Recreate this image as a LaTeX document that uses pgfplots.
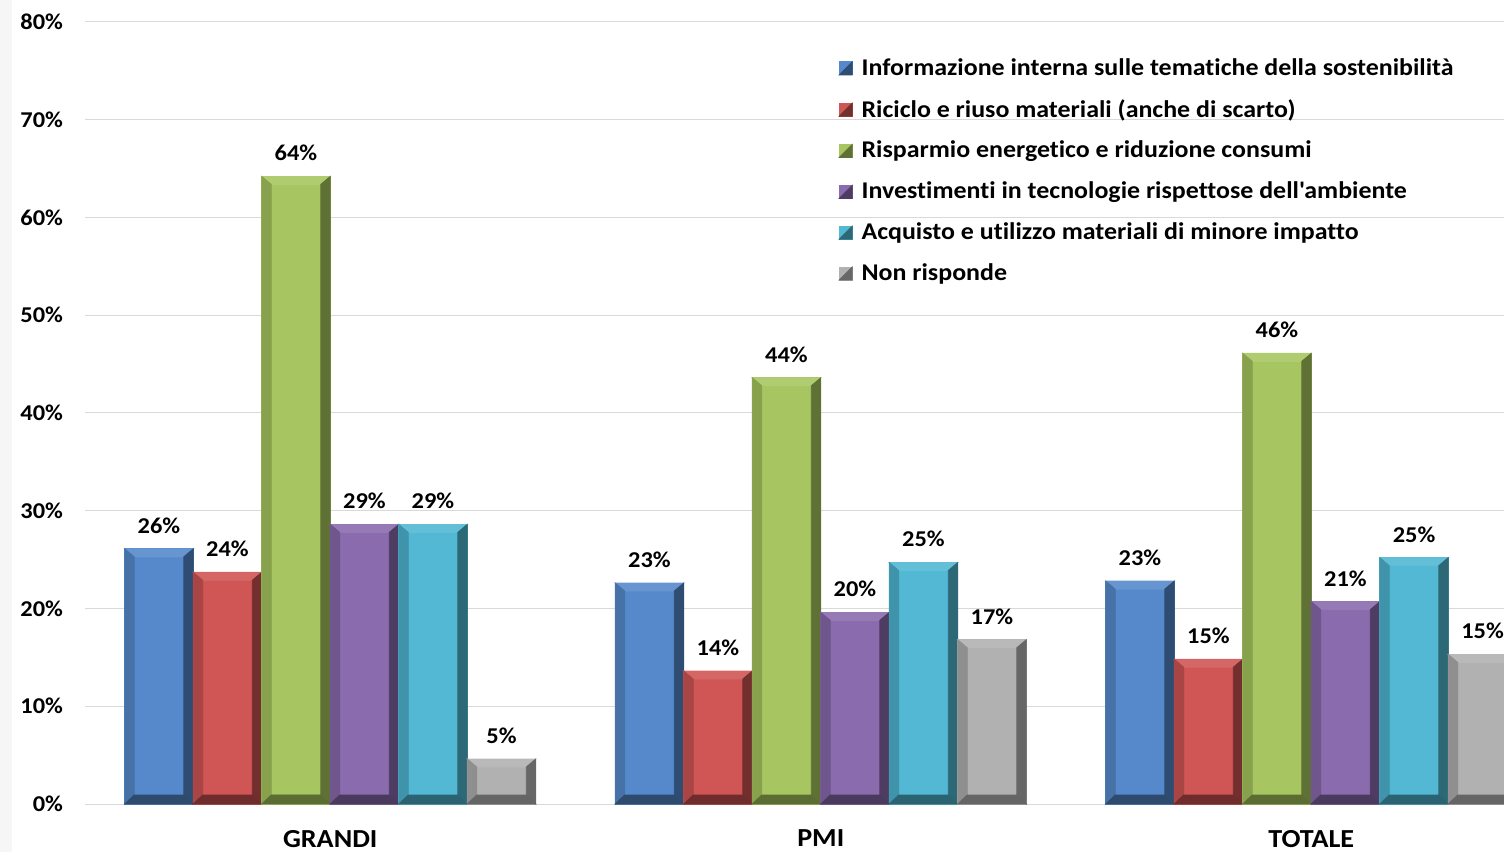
\documentclass[border=0pt]{standalone}
\usepackage{fontspec}
\setmainfont{Carlito}[FakeStretch=1.08, Ligatures={TeXOff,NoCommon}]
\usepackage{pgfplots}
\pgfplotsset{compat=1.18}

\definecolor{bM}{HTML}{5589CB}\definecolor{bL}{HTML}{4672A8}\definecolor{bR}{HTML}{2F4D72}\definecolor{bB}{HTML}{2E4A6C}
\definecolor{rM}{HTML}{CF5654}\definecolor{rL}{HTML}{A94544}\definecolor{rR}{HTML}{732E2E}\definecolor{rB}{HTML}{6E2C2C}
\definecolor{gM}{HTML}{A7C661}\definecolor{gL}{HTML}{88A14C}\definecolor{gR}{HTML}{5F7134}\definecolor{gB}{HTML}{5C6D33}
\definecolor{pM}{HTML}{8A6BAD}\definecolor{pL}{HTML}{6F568D}\definecolor{pR}{HTML}{4E3C62}\definecolor{pB}{HTML}{4A3A5E}
\definecolor{cM}{HTML}{52B8D4}\definecolor{cL}{HTML}{3F94AB}\definecolor{cR}{HTML}{2D6876}\definecolor{cB}{HTML}{2C6372}
\definecolor{kM}{HTML}{B1B1B1}\definecolor{kL}{HTML}{8F8F8F}\definecolor{kR}{HTML}{676767}\definecolor{kB}{HTML}{656565}
\definecolor{gridc}{HTML}{D9D9D9}
\definecolor{leftbg}{HTML}{F6F6F6}

\newcommand\lbl{\fontsize{11.3}{13}\selectfont\bfseries}
\newcommand\leglbl{\fontsize{12}{14}\selectfont\bfseries}
\newcommand\xlbl{\fontsize{13}{15}\selectfont\bfseries}

\pgfdeclareplotmark{empty}{}

\newcommand\bevelbar[6]{%
  \begingroup
  \pgfmathsetmacro\xL{#1-17.125}%
  \pgfmathsetmacro\xR{#1+17.125}%
  \pgfmathsetmacro\xLi{\xL+4.75}%
  \pgfmathsetmacro\xRi{\xR-4.75}%
  \pgfmathsetmacro\yB{-#2}%
  \pgfmathsetmacro\yBi{\yB+4.5}%
  \def\yTi{-4}%
  \fill[#3] (\xL pt,0pt) rectangle (\xR pt,\yB pt);
  \fill[#3!90!white] (\xL pt,0pt) -- (\xR pt,0pt) -- (\xRi pt,\yTi pt) -- (\xLi pt,\yTi pt) -- cycle;
  \fill[#4] (\xL pt,0pt) -- (\xLi pt,\yTi pt) -- (\xLi pt,\yBi pt) -- (\xL pt,\yB pt) -- cycle;
  \fill[#5] (\xR pt,0pt) -- (\xRi pt,\yTi pt) -- (\xRi pt,\yBi pt) -- (\xR pt,\yB pt) -- cycle;
  \fill[#6] (\xL pt,\yB pt) -- (\xLi pt,\yBi pt) -- (\xRi pt,\yBi pt) -- (\xR pt,\yB pt) -- cycle;
  \endgroup
}

\pgfplotsset{
  bevel/.style n args={5}{
    scatter, only marks, mark=empty, point meta=y,
    visualization depends on={rawy \as \rawy},
    scatter/@pre marker code/.code={%
      \pgfmathsetmacro\barH{\rawy*4.8875}%
      \bevelbar{#1}{\barH}{#2}{#3}{#4}{#5}%
      \pgfmathtruncatemacro\lab{round(\rawy)}%
      \node[anchor=south, font=\lbl, text=black, inner sep=2pt] at (#1pt,5.5pt) {\lab\%};%
    },
    scatter/@post marker code/.code={},
    legend image code/.code={
      \fill[#2] (0pt,-3.25pt) rectangle (6.5pt,3.25pt);
      \fill[#4] (6.5pt,3.25pt) -- (6.5pt,-3.25pt) -- (0pt,-3.25pt) -- cycle;},
  }
}

\begin{document}
\begin{tikzpicture}
\useasboundingbox (0,0) rectangle (752pt,426pt);
\fill[leftbg] (0,0) rectangle (6pt,426pt);
\begin{axis}[
  at={(42.5pt,24pt)}, anchor=south west,
  x=245.25pt, y=4.8875pt,
  xmin=-0.5, xmax=2.5, ymin=0, ymax=80,
  axis line style={draw=none},
  major tick length=0pt,
  ytick={0,10,...,80},
  yticklabel={\pgfmathprintnumber[assume math mode=true]{\tick}\%},
  yticklabel style={font=\lbl, xshift=-7.5pt},
  xtick={0,1,2}, xticklabels={GRANDI,PMI,TOTALE},
  xticklabel style={font=\xlbl, yshift=-9.5pt},
  ymajorgrids, major grid style={color=gridc, line width=0.5pt},
  legend style={draw=none, fill=none, at={(0.512,0.959)}, anchor=north west, font=\leglbl, row sep=6.5pt, inner sep=0pt,
    nodes={inner xsep=4.5pt}},
  legend cell align=left,
]
\addplot[bevel={-85.625}{bM}{bL}{bR}{bB}] coordinates {(0,26.1) (1,22.6) (2,22.8)};
\addlegendentry{Informazione interna sulle tematiche della sostenibilità}
\addplot[bevel={-51.375}{rM}{rL}{rR}{rB}] coordinates {(0,23.7) (1,13.6) (2,14.8)};
\addlegendentry{Riciclo e riuso materiali (anche di scarto)}
\addplot[bevel={-17.125}{gM}{gL}{gR}{gB}] coordinates {(0,64.2) (1,43.6) (2,46.1)};
\addlegendentry{Risparmio energetico e riduzione consumi}
\addplot[bevel={17.125}{pM}{pL}{pR}{pB}] coordinates {(0,28.6) (1,19.6) (2,20.7)};
\addlegendentry{Investimenti in tecnologie rispettose dell'ambiente}
\addplot[bevel={51.375}{cM}{cL}{cR}{cB}] coordinates {(0,28.6) (1,24.7) (2,25.2)};
\addlegendentry{Acquisto e utilizzo materiali di minore impatto}
\addplot[bevel={85.625}{kM}{kL}{kR}{kB}] coordinates {(0,4.6) (1,16.8) (2,15.3)};
\addlegendentry{Non risponde}
\end{axis}
\end{tikzpicture}
\end{document}
